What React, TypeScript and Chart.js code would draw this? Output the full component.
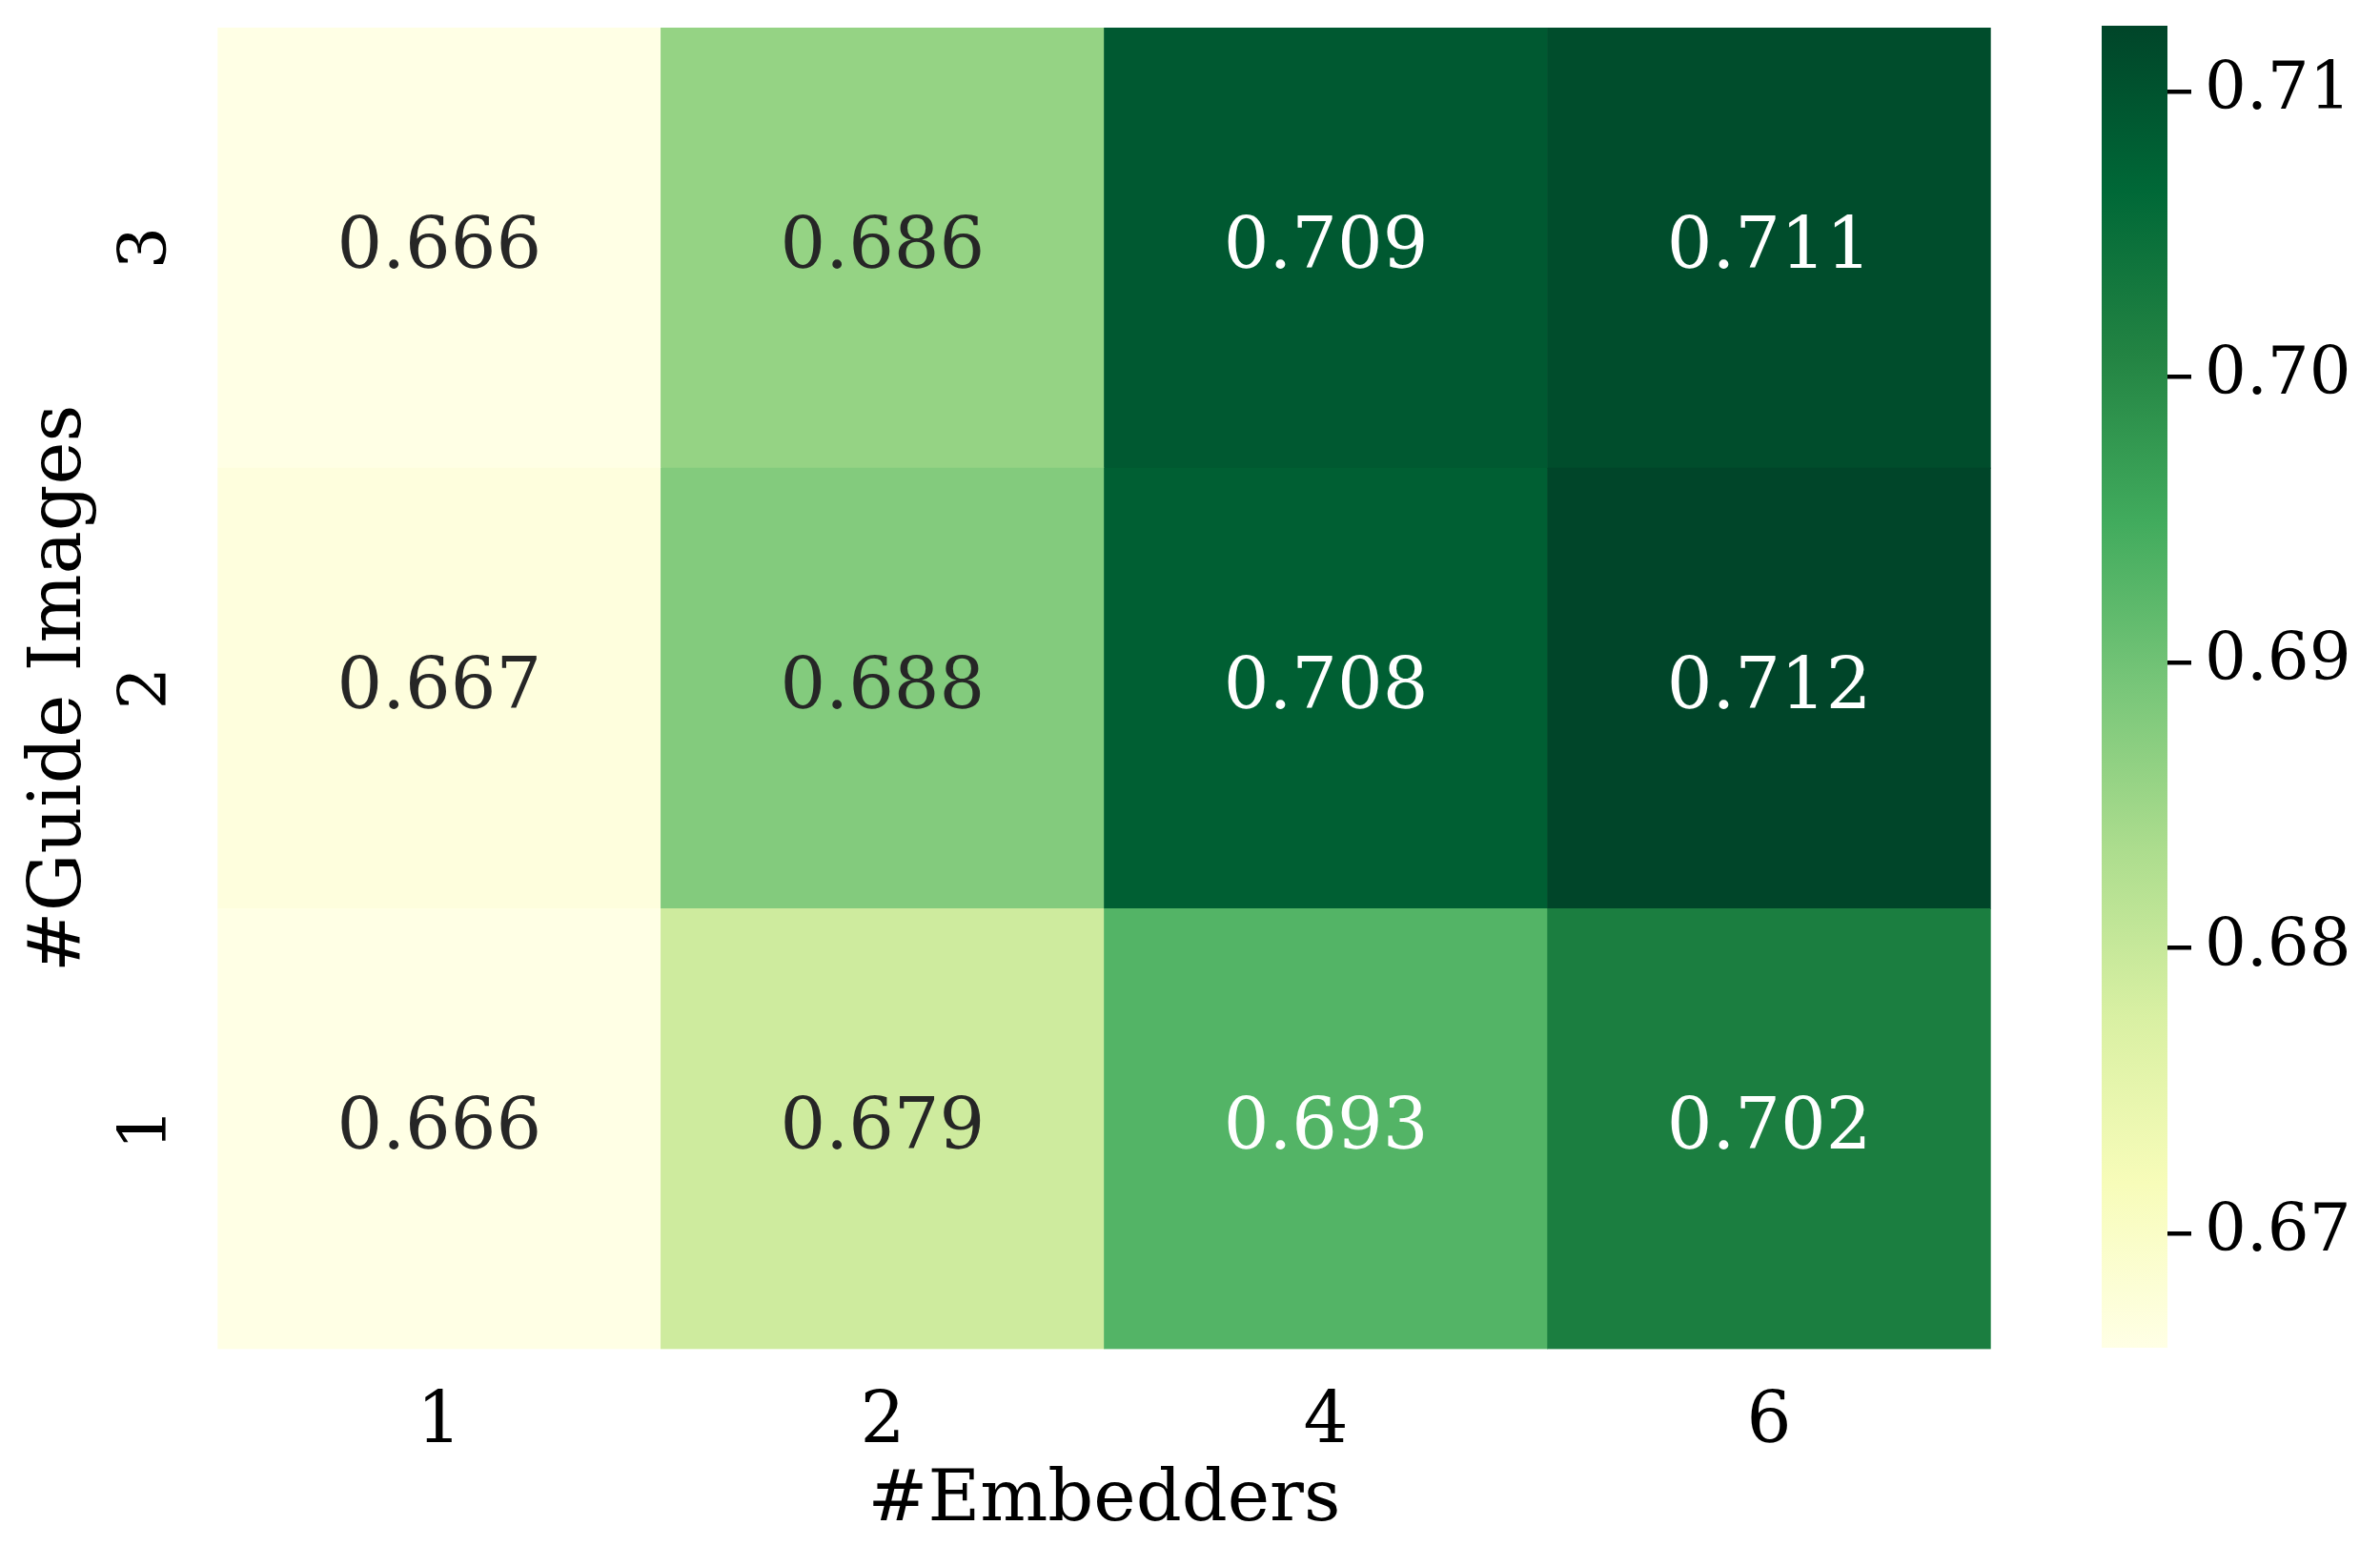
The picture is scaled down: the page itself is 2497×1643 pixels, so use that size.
import React, { useEffect, useRef } from 'react';
import { Chart, registerables } from 'chart.js';

Chart.register(...registerables);

// ---- data ----
const embedders = ['1', '2', '4', '6'];
const guideImages = ['1', '2', '3']; // bottom to top
const guide1 = [0.666, 0.679, 0.693, 0.702];
const guide2 = [0.667, 0.688, 0.708, 0.7123];
const guide3 = [0.666, 0.686, 0.709, 0.711];
const colorbarTicks = [0.67, 0.68, 0.69, 0.7, 0.71];
const xTitle = '#Embedders';
const yTitle = '#Guide Images';

const rows = [guide1, guide2, guide3];
const allValues = rows.flat();
const vmin = Math.min(...allValues);
const vmax = Math.max(...allValues);

const YLGN = ['#ffffe5', '#f7fcb9', '#d9f0a3', '#addd8e', '#78c679', '#41ab5d', '#238443', '#006837', '#004529'];
const FONT = 'DejaVu Serif';

function hexToRgb(h: string): number[] {
  return [parseInt(h.slice(1, 3), 16), parseInt(h.slice(3, 5), 16), parseInt(h.slice(5, 7), 16)];
}
const YLGN_RGB = YLGN.map(hexToRgb);

function cmapRgb(v: number): number[] {
  let t = (v - vmin) / (vmax - vmin);
  t = Math.max(0, Math.min(1, t));
  const p = t * (YLGN_RGB.length - 1);
  const i = Math.min(Math.floor(p), YLGN_RGB.length - 2);
  const f = p - i;
  const a = YLGN_RGB[i];
  const b = YLGN_RGB[i + 1];
  return [0, 1, 2].map((k) => Math.round(a[k] + (b[k] - a[k]) * f));
}
function cmapCss(v: number): string {
  const [r, g, b] = cmapRgb(v);
  return `rgb(${r},${g},${b})`;
}
function textColor(v: number): string {
  const lin = cmapRgb(v).map((c) => {
    const s = c / 255;
    return s <= 0.03928 ? s / 12.92 : Math.pow((s + 0.055) / 1.055, 2.4);
  });
  const lum = 0.2126 * lin[0] + 0.7152 * lin[1] + 0.0722 * lin[2];
  return lum > 0.408 ? '#262626' : '#ffffff';
}

const cellTextPlugin = {
  id: 'cellText',
  afterDatasetsDraw(chart: any) {
    const ctx = chart.ctx;
    ctx.save();
    ctx.font = `75px "${FONT}"`;
    ctx.textAlign = 'center';
    ctx.textBaseline = 'alphabetic';
    chart.data.datasets.forEach((_ds: any, r: number) => {
      const meta = chart.getDatasetMeta(r);
      meta.data.forEach((bar: any, j: number) => {
        const v = rows[r][j];
        const { x, y, base } = bar.getProps(['x', 'y', 'base'], true);
        const cy = (y + base) / 2;
        ctx.fillStyle = textColor(v);
        ctx.fillText(v.toFixed(3), x, cy + 21);
      });
    });
    ctx.restore();
  },
};

export default function App() {
  const mainRef = useRef<HTMLCanvasElement>(null);
  const cbRef = useRef<HTMLCanvasElement>(null);

  useEffect(() => {
    const main = new Chart(mainRef.current as HTMLCanvasElement, {
      type: 'bar',
      data: {
        labels: embedders,
        datasets: rows.map((vals, r) => ({
          label: guideImages[r],
          data: vals.map(() => [r, r + 1]),
          backgroundColor: vals.map((v) => cmapCss(v)),
          borderWidth: 0,
          barPercentage: 1,
          categoryPercentage: 1,
          grouped: false,
        })),
      } as any,
      options: {
        responsive: false,
        animation: false,
        events: [],
        layout: { padding: { top: 29, right: 61.3, left: 0, bottom: 0 } },
        plugins: { legend: { display: false }, tooltip: { enabled: false } },
        scales: {
          x: {
            type: 'category',
            offset: true,
            grid: { display: false },
            border: { display: false },
            ticks: {
              font: { family: FONT, size: 74 },
              color: '#000',
              padding: 25.5,
              minRotation: 0,
              maxRotation: 0,
            },
            title: {
              display: true,
              text: xTitle,
              font: { family: FONT, size: 75 },
              color: '#000',
              padding: { top: 0, bottom: 22 },
            },
            afterFit: (s: any) => {
              s.height = 227.5;
              s.paddingLeft = 0;
              s.paddingRight = 0;
            },
          },
          y: {
            type: 'linear',
            min: 0,
            max: guideImages.length,
            grid: { display: false },
            border: { display: false },
            afterBuildTicks: (s: any) => {
              s.ticks = guideImages.map((_g, i) => ({ value: i + 0.5 }));
            },
            ticks: {
              callback: (v: any) => guideImages[Math.floor(Number(v))],
              font: { family: FONT, size: 70 },
              color: '#000',
              padding: 42,
              minRotation: 90,
              maxRotation: 90,
              crossAlign: 'center',
            },
            title: {
              display: true,
              text: yTitle,
              font: { family: FONT, size: 76 },
              color: '#000',
              padding: { top: 19, bottom: 0 },
            },
            afterFit: (s: any) => {
              s.width = 228.3;
              s.paddingTop = 0;
              s.paddingBottom = 0;
            },
          },
        },
      } as any,
      plugins: [cellTextPlugin],
    });

    const cb = new Chart(cbRef.current as HTMLCanvasElement, {
      type: 'bar',
      data: {
        labels: [''],
        datasets: [
          {
            data: [[vmin, vmax]],
            backgroundColor: (c: any) => {
              const area = c.chart.chartArea;
              if (!area) return YLGN[0];
              const g = c.chart.ctx.createLinearGradient(0, area.bottom, 0, area.top);
              YLGN.forEach((col, i) => g.addColorStop(i / (YLGN.length - 1), col));
              return g;
            },
            borderWidth: 0,
            barPercentage: 1,
            categoryPercentage: 1,
          },
        ],
      } as any,
      options: {
        responsive: false,
        animation: false,
        events: [],
        layout: { padding: { left: 55, top: 27, bottom: 1643 - 1414, right: 0 } },
        plugins: { legend: { display: false }, tooltip: { enabled: false } },
        scales: {
          x: { display: false, offset: true },
          y: {
            position: 'right',
            min: vmin,
            max: vmax,
            afterBuildTicks: (s: any) => {
              s.ticks = colorbarTicks.map((v) => ({ value: v }));
            },
            grid: {
              display: true,
              drawOnChartArea: false,
              drawTicks: true,
              tickLength: 25,
              lineWidth: 4.5,
              color: '#000',
            },
            border: { display: false },
            ticks: {
              font: { family: FONT, size: 69 },
              color: '#000',
              padding: 14,
              callback: (v: any) => Number(v).toFixed(2),
            },
            afterFit: (s: any) => {
              s.width = 347 - 124;
              s.paddingTop = 0;
              s.paddingBottom = 0;
            },
          },
        },
      } as any,
    });

    return () => {
      main.destroy();
      cb.destroy();
    };
  }, []);

  return (
    <div style={{ position: 'absolute', left: 0, top: 0, width: 2497, height: 1643, background: '#fff' }}>
      <canvas
        ref={mainRef}
        width={2150}
        height={1643}
        style={{ position: 'absolute', left: 0, top: 0, width: 2150, height: 1643 }}
      />
      <canvas
        ref={cbRef}
        width={347}
        height={1643}
        style={{ position: 'absolute', left: 2150, top: 0, width: 347, height: 1643 }}
      />
    </div>
  );
}
